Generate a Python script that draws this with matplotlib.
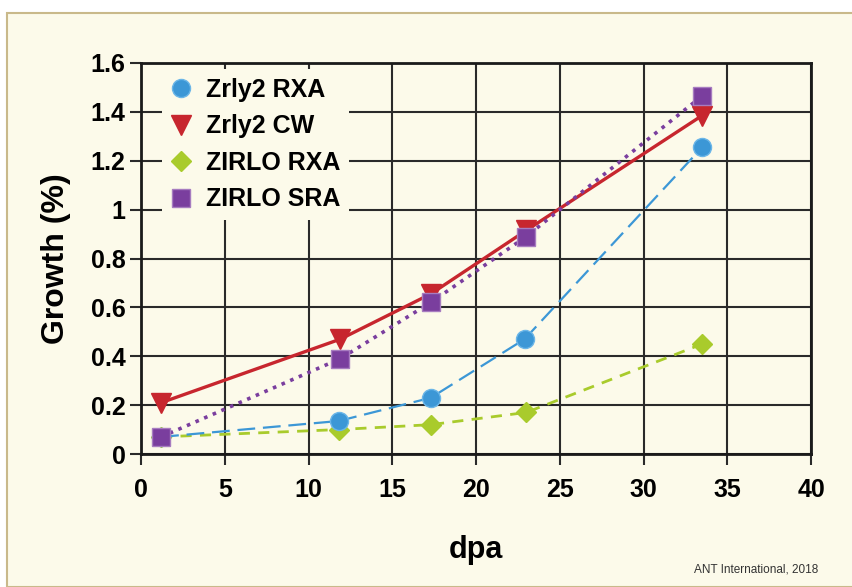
import matplotlib
matplotlib.use("Agg")
import matplotlib.pyplot as plt
from matplotlib.patches import Rectangle

series_names = ["Zrly2 RXA", "Zrly2 CW", "ZIRLO RXA", "ZIRLO SRA"]
x_rxa = [1.2, 11.8, 17.3, 22.9, 33.5]
y_rxa = [0.07, 0.135, 0.23, 0.47, 1.255]
x_cw = [1.2, 11.9, 17.3, 23.0, 33.5]
y_cw = [0.21, 0.47, 0.655, 0.915, 1.385]
x_zrxa = [1.2, 11.8, 17.3, 23.0, 33.5]
y_zrxa = [0.07, 0.10, 0.12, 0.17, 0.45]
x_sra = [1.2, 11.9, 17.3, 23.0, 33.5]
y_sra = [0.07, 0.39, 0.62, 0.89, 1.465]
xticks = [0, 5, 10, 15, 20, 25, 30, 35, 40]
yticks = [0, 0.2, 0.4, 0.6, 0.8, 1.0, 1.2, 1.4, 1.6]
ytick_labels = ["0", "0.2", "0.4", "0.6", "0.8", "1", "1.2", "1.4", "1.6"]

FONT = "Liberation Sans"
bg = "#FCFAEA"
fig = plt.figure(figsize=(8.52, 5.87), dpi=100, facecolor="white")
fig.patches.append(Rectangle((7/852, 0), 1, 1 - 13/587, transform=fig.transFigure,
                             facecolor=bg, edgecolor="#C9B98A", linewidth=1.5, zorder=-10))
ax = fig.add_axes([141/852, 1 - 454/587, (811-141)/852, (454-63)/587])
ax.set_zorder(1)
ax.set_facecolor(bg)

ax.plot(x_rxa, y_rxa, linestyle=(0, (8, 3.5)), color="#3C97D6", lw=1.6, marker="o", ms=13,
        markeredgecolor="#6BB6E8", markerfacecolor="#3C97D6", label=series_names[0], zorder=4)
ax.plot(x_cw, y_cw, linestyle="-", color="#C7262E", lw=2.4, marker="v", ms=14,
        markerfacecolor="#C7262E", markeredgecolor="#C7262E", label=series_names[1], zorder=3)
ax.plot(x_zrxa, y_zrxa, linestyle=(0, (4, 3)), color="#A9CB2C", lw=2.0, marker="D", ms=10,
        markerfacecolor="#A9CB2C", markeredgecolor="#A9CB2C", label=series_names[2], zorder=3)
ax.plot(x_sra, y_sra, linestyle=(0, (1, 1.6)), color="#7A3E9E", lw=2.6, marker="s", ms=13,
        markerfacecolor="#7A3E9E", markeredgecolor="#A77CC0", label=series_names[3], zorder=5)

ax.set_xlim(0, 40)
ax.set_ylim(0, 1.6)
ax.set_xticks(xticks)
ax.set_yticks(yticks)
ax.set_yticklabels(ytick_labels)
ax.grid(True, color="#2a2a2a", lw=1.5)
ax.set_axisbelow(True)
for s in ax.spines.values():
    s.set_color("#1a1a1a")
    s.set_linewidth(2)
ax.tick_params(direction="out", length=8, width=1.5, color="#2a2a2a", labelsize=18)
ax.tick_params(axis="x", pad=9)
ax.tick_params(axis="y", pad=3)
for lab in ax.get_xticklabels() + ax.get_yticklabels():
    lab.set_fontweight("bold")
    lab.set_fontfamily(FONT)

ax.set_xlabel("dpa", fontsize=22, fontweight="bold", family=FONT, labelpad=24)
ax.set_ylabel("Growth (%)", fontsize=23, fontweight="bold", family=FONT, labelpad=14)

leg = ax.legend(loc="upper left", bbox_to_anchor=(0.031, 0.985), frameon=True,
                facecolor=bg, edgecolor="none", framealpha=1, fancybox=False,
                handlelength=0.8, handletextpad=0.6, labelspacing=0.5,
                borderaxespad=0, borderpad=0.36,
                prop={"family": FONT, "weight": "bold", "size": 18})
for h in leg.legend_handles:
    h.set_linestyle("None")

fig.text(818/852, 1 - 570/587, "ANT International, 2018", ha="right", va="center",
         fontsize=8.5, color="#333333", family=FONT)

fig.savefig("out.png", dpi=100, facecolor=fig.get_facecolor())
